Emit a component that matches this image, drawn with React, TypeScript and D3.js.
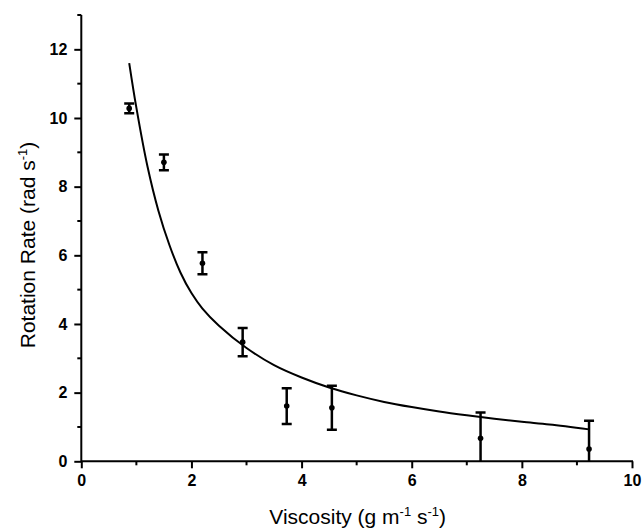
import React, { useEffect, useRef } from "react";
import * as d3 from "d3";

const viscosity = [0.87, 1.5, 2.2, 2.93, 3.73, 4.55, 7.25, 9.22];
const rotationRate = [10.28, 8.71, 5.77, 3.47, 1.61, 1.56, 0.67, 0.36];
const rateError = [0.14, 0.23, 0.32, 0.41, 0.52, 0.64, 0.75, 0.82];

const fitX = [0.87, 1.0, 1.2, 1.4, 1.6, 1.8, 2.0, 2.2, 2.5, 3.0, 3.5, 4.0, 4.5, 5.0, 5.5, 6.0, 6.5, 7.0, 7.5, 8.0, 8.5, 9.22];
const fitY = [11.6, 10.3, 8.6, 7.3, 6.3, 5.5, 4.9, 4.45, 3.95, 3.3, 2.8, 2.44, 2.15, 1.92, 1.73, 1.58, 1.45, 1.34, 1.24, 1.15, 1.07, 0.93];

const xTicks = [0, 2, 4, 6, 8, 10];
const xMinor = [1, 3, 5, 7, 9];
const yTicks = [0, 2, 4, 6, 8, 10, 12];
const yMinor = [1, 3, 5, 7, 9, 11, 13];

const FONT = "Liberation Sans, Arial, Helvetica, sans-serif";

export default function App() {
  const ref = useRef<SVGSVGElement>(null);
  useEffect(() => {
    const svg = d3.select(ref.current);
    svg.selectAll("*").remove();
    const x = d3.scaleLinear().domain([0, 10]).range([81.3, 632]);
    const y = d3.scaleLinear().domain([0, 13]).range([461.3, 15]);

    const defs = svg.append("defs");
    defs.append("clipPath").attr("id", "clip")
      .append("rect").attr("x", x(0)).attr("y", y(13) - 10).attr("width", x(10) - x(0) + 10).attr("height", y(0) - y(13) + 10);

    const g = svg.append("g");
    // axes
    const xAxis = d3.axisBottom(x).tickValues(xTicks).tickSize(7).tickFormat(d3.format("d"));
    const xa = g.append("g").attr("transform", `translate(0,${y(0)})`).call(xAxis);
    xa.selectAll("line").attr("stroke", "#000").attr("stroke-width", 2);
    xa.select(".domain").remove();
    xa.selectAll("text")
      .style("font-family", FONT).style("font-weight", "bold").style("font-size", "16px")
      .attr("y", 25).attr("dy", null).attr("fill", "#000");
    g.append("g").selectAll("line").data(xMinor).join("line")
      .attr("x1", d => x(d)).attr("x2", d => x(d)).attr("y1", y(0)).attr("y2", y(0) + 4)
      .attr("stroke", "#000").attr("stroke-width", 2);

    const yAxis = d3.axisLeft(y).tickValues(yTicks).tickSize(7).tickFormat(d3.format("d"));
    const ya = g.append("g").attr("transform", `translate(${x(0)},0)`).call(yAxis);
    ya.selectAll("line").attr("stroke", "#000").attr("stroke-width", 2);
    ya.select(".domain").remove();
    ya.selectAll("text")
      .style("font-family", FONT).style("font-weight", "bold").style("font-size", "16px")
      .attr("fill", "#000").attr("x", -14);
    g.append("g").selectAll("line").data(yMinor).join("line")
      .attr("x1", x(0)).attr("x2", x(0) - 4).attr("y1", d => y(d)).attr("y2", d => y(d))
      .attr("stroke", "#000").attr("stroke-width", 2);

    g.append("line").attr("x1", x(0)).attr("x2", x(10) + 1).attr("y1", y(0)).attr("y2", y(0))
      .attr("stroke", "#000").attr("stroke-width", 2);
    g.append("line").attr("x1", x(0)).attr("x2", x(0)).attr("y1", y(0) + 1).attr("y2", y(13))
      .attr("stroke", "#000").attr("stroke-width", 2);

    // fit curve
    const line = d3.line<number>().x((d, i) => x(fitX[i])).y(d => y(d)).curve(d3.curveCatmullRom.alpha(0.5));
    g.append("path").datum(fitY).attr("d", line).attr("fill", "none").attr("stroke", "#000").attr("stroke-width", 2);

    // error bars
    const eb = g.append("g").attr("clip-path", "url(#clip)");
    viscosity.forEach((v, i) => {
      const cx = x(v);
      const top = y(rotationRate[i] + rateError[i]);
      const bot = y(rotationRate[i] - rateError[i]);
      eb.append("line").attr("x1", cx).attr("x2", cx).attr("y1", top).attr("y2", bot)
        .attr("stroke", "#000").attr("stroke-width", 2.5);
      eb.append("line").attr("x1", cx - 5).attr("x2", cx + 5).attr("y1", top).attr("y2", top)
        .attr("stroke", "#000").attr("stroke-width", 2.5);
      eb.append("line").attr("x1", cx - 5).attr("x2", cx + 5).attr("y1", bot).attr("y2", bot)
        .attr("stroke", "#000").attr("stroke-width", 2.5);
      eb.append("circle").attr("cx", cx).attr("cy", y(rotationRate[i])).attr("r", 2.8).attr("fill", "#000");
    });

    // titles
    const xt = svg.append("text").attr("x", (x(0) + x(10)) / 2 + 1).attr("y", 524)
      .attr("text-anchor", "middle").style("font-family", FONT)
      .style("font-size", "21px").attr("fill", "#000");
    xt.append("tspan").text("Viscosity (g m");
    xt.append("tspan").attr("dy", -8).style("font-size", "13px").text("-1");
    xt.append("tspan").attr("dy", 8).text(" s");
    xt.append("tspan").attr("dy", -8).style("font-size", "13px").text("-1");
    xt.append("tspan").attr("dy", 8).text(")");

    const yt = svg.append("text").attr("transform", `translate(35,${y(6.3)}) rotate(-90)`)
      .attr("text-anchor", "middle").style("font-family", FONT)
      .style("font-size", "21px").attr("fill", "#000");
    yt.append("tspan").text("Rotation Rate (rad s");
    yt.append("tspan").attr("dy", -8).style("font-size", "13px").text("-1");
    yt.append("tspan").attr("dy", 8).text(")");
  }, []);
  return (
    <svg ref={ref} width={642} height={531}
      style={{ position: "absolute", left: 0, top: 0, background: "#fff" }} />
  );
}
